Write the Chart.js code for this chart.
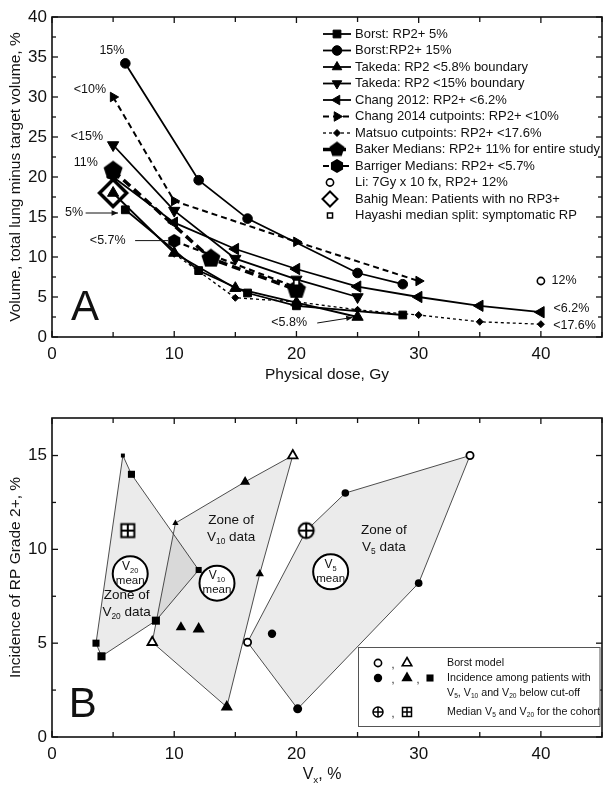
<!DOCTYPE html>
<html>
<head>
<meta charset="utf-8">
<script src="https://cdn.jsdelivr.net/npm/chart.js@4.4.1/dist/chart.umd.min.js"></script>
<style>
  body { margin: 0; background: #fff; }
  #wrap { position: relative; width: 603px; height: 790px; }
  .box { position: absolute; left: 0; width: 603px; height: 395px; }
</style>
</head>
<body>
<div id="wrap">
  <div class="box" style="top:0"><canvas id="chartA"></canvas></div>
  <div class="box" style="top:395px"><canvas id="chartB"></canvas></div>
</div>
<script>
// ---------- panel A: volume vs physical dose ----------
const borst5Dose = [6, 12, 16, 20, 28.7];
const borst5Vol = [15.9, 8.3, 5.5, 3.9, 2.75];
const borst15Dose = [6, 12, 16, 25, 28.7];
const borst15Vol = [34.2, 19.6, 14.8, 8.0, 6.6];
const takeda58Dose = [5, 10, 15, 20, 25];
const takeda58Vol = [18, 10.5, 6.1, 4.3, 2.5];
const takeda15Dose = [5, 10, 15, 20, 25];
const takeda15Vol = [24, 15.8, 9.8, 7.2, 5.0];
const chang12Dose = [5, 10, 15, 20, 25, 30, 35, 40];
const chang12Vol = [20, 14.3, 11.0, 8.5, 6.3, 5.0, 3.9, 3.1];
const chang14Dose = [5, 10, 20, 30];
const chang14Vol = [30, 17, 11.9, 7.0];
const matsuoDose = [10, 15, 20, 25, 30, 35, 40];
const matsuoVol = [10.4, 4.9, 4.4, 3.4, 2.75, 1.9, 1.6];
const bakerDose = [5, 13, 20];
const bakerVol = [20.8, 9.8, 5.9];
const barrigerDose = [10, 20];
const barrigerVol = [12, 6.2];
const liDose = [40];
const liVol = [7.0];
const bahigDose = [5];
const bahigVol = [18];
const hayashiDose = [20];
const hayashiVol = [6.8];

// ---------- panel B: incidence vs Vx ----------
const borstV5X = [34.2, 16];
const borstV5Y = [15, 5.05];
const borstV10X = [19.7, 8.2];
const borstV10Y = [15, 5.05];
const cutV5X = [24, 30, 20.1, 18];
const cutV5Y = [13, 8.2, 1.5, 5.5];
const cutV10X = [15.8, 10.1, 17, 14.3, 10.55, 12];
const cutV10Y = [13.6, 11.4, 8.7, 1.6, 5.85, 5.75];
const cutV20X = [5.8, 6.5, 12, 8.5, 4.05, 3.6];
const cutV20Y = [15, 14, 8.9, 6.2, 4.3, 5];
const medianV5X = [20.8];
const medianV5Y = [11];
const medianV20X = [6.2];
const medianV20Y = [11];
const meanX = [6.4, 13.5, 22.8];
const meanY = [8.7, 8.2, 8.8];
const meanSub = ['20', '10', '5'];
const zoneV5X = [16, 20.8, 24, 34.2, 30, 20.1, 16];
const zoneV5Y = [5.05, 11, 13, 15, 8.2, 1.5, 5.05];
const zoneV10X = [10.1, 15.8, 19.7, 17, 14.3, 8.2, 10.1];
const zoneV10Y = [11.4, 13.6, 15, 8.7, 1.6, 5.05, 11.4];
const zoneV20X = [5.8, 6.5, 12, 8.5, 4.05, 3.6, 5.8];
const zoneV20Y = [15, 14, 8.9, 6.2, 4.3, 5, 15];

const FONT = '"Liberation Sans", Arial, sans-serif';

function pts(xs, ys) { return xs.map((x, i) => ({ x: x, y: ys[i] })); }

function markerCanvas(size, draw) {
  const c = document.createElement('canvas');
  c.width = size; c.height = size;
  const g = c.getContext('2d');
  draw(g, size / 2);
  return c;
}
function poly(g, c, n, r, start) {
  g.beginPath();
  for (let i = 0; i < n; i++) {
    const a = start + i * 2 * Math.PI / n;
    g.lineTo(c + r * Math.cos(a), c + r * Math.sin(a));
  }
  g.closePath();
}
const pentagon = markerCanvas(22, (g, c) => { poly(g, c, 5, 10, -Math.PI / 2); g.fillStyle = '#000'; g.fill(); });
const pentagonSmall = markerCanvas(18, (g, c) => { poly(g, c, 5, 8, -Math.PI / 2); g.fillStyle = '#000'; g.fill(); });
const hexagon = markerCanvas(16, (g, c) => { poly(g, c, 6, 7, -Math.PI / 2); g.fillStyle = '#000'; g.fill(); });
const diamondBig = markerCanvas(34, (g, c) => { poly(g, c, 4, 13.5, -Math.PI / 2); g.lineWidth = 3.5; g.strokeStyle = '#000'; g.stroke(); });
const diamondSmall = markerCanvas(20, (g, c) => { poly(g, c, 4, 7.5, -Math.PI / 2); g.lineWidth = 2; g.strokeStyle = '#000'; g.stroke(); });
const crossCircle = markerCanvas(20, (g, c) => {
  g.beginPath(); g.arc(c, c, 7.5, 0, 2 * Math.PI); g.fillStyle = '#fff'; g.fill();
  g.lineWidth = 2; g.strokeStyle = '#000'; g.stroke();
  g.beginPath(); g.moveTo(c - 7.5, c); g.lineTo(c + 7.5, c); g.moveTo(c, c - 7.5); g.lineTo(c, c + 7.5); g.stroke();
});
const crossSquare = markerCanvas(18, (g, c) => {
  g.fillStyle = '#fff'; g.fillRect(c - 6.5, c - 6.5, 13, 13);
  g.lineWidth = 2; g.strokeStyle = '#000'; g.strokeRect(c - 6.5, c - 6.5, 13, 13);
  g.beginPath(); g.moveTo(c - 6.5, c); g.lineTo(c + 6.5, c); g.moveTo(c, c - 6.5); g.lineTo(c, c + 6.5); g.stroke();
});
const crossCircleSmall = markerCanvas(14, (g, c) => {
  g.beginPath(); g.arc(c, c, 5, 0, 2 * Math.PI); g.lineWidth = 1.5; g.strokeStyle = '#000'; g.stroke();
  g.beginPath(); g.moveTo(c - 5, c); g.lineTo(c + 5, c); g.moveTo(c, c - 5); g.lineTo(c, c + 5); g.stroke();
});
const crossSquareSmall = markerCanvas(14, (g, c) => {
  g.lineWidth = 1.5; g.strokeStyle = '#000'; g.strokeRect(c - 4.5, c - 4.5, 9, 9);
  g.beginPath(); g.moveTo(c - 4.5, c); g.lineTo(c + 4.5, c); g.moveTo(c, c - 4.5); g.lineTo(c, c + 4.5); g.stroke();
});

// text with subscripts: parts = [[text, isSub], ...]
function subText(ctx, parts, x, y, size, align) {
  const sub = size * 0.62;
  let w = 0;
  parts.forEach(p => { ctx.font = (p[1] ? sub : size) + 'px ' + FONT; w += ctx.measureText(p[0]).width; });
  let cx = align === 'center' ? x - w / 2 : x;
  ctx.textAlign = 'left'; ctx.textBaseline = 'middle';
  parts.forEach(p => {
    ctx.font = (p[1] ? sub : size) + 'px ' + FONT;
    ctx.fillText(p[0], cx, p[1] ? y + size * 0.32 : y);
    cx += ctx.measureText(p[0]).width;
  });
}
function seg(ctx, x1, y1, x2, y2) { ctx.beginPath(); ctx.moveTo(x1, y1); ctx.lineTo(x2, y2); ctx.stroke(); }
function arrow(ctx, x1, y1, x2, y2) {
  seg(ctx, x1, y1, x2, y2);
  const a = Math.atan2(y2 - y1, x2 - x1);
  ctx.beginPath();
  ctx.moveTo(x2, y2);
  ctx.lineTo(x2 - 7 * Math.cos(a - 0.4), y2 - 7 * Math.sin(a - 0.4));
  ctx.lineTo(x2 - 7 * Math.cos(a + 0.4), y2 - 7 * Math.sin(a + 0.4));
  ctx.closePath(); ctx.fill();
}

// frame + inward ticks on all four sides
const framePlugin = {
  id: 'frame',
  afterDatasetsDraw(chart, args, opts) {
    const { ctx, chartArea: a, scales: { x, y } } = chart;
    ctx.save();
    ctx.strokeStyle = '#111';
    ctx.lineWidth = 1.6;
    ctx.strokeRect(a.left, a.top, a.right - a.left, a.bottom - a.top);
    ctx.lineWidth = 1.3;
    for (let v = x.min; v <= x.max; v += opts.xStep) {
      const px = x.getPixelForValue(v);
      const len = v % opts.xMajor === 0 ? 6 : 5;
      seg(ctx, px, a.bottom, px, a.bottom - len);
      seg(ctx, px, a.top, px, a.top + len);
    }
    for (let v = y.min; v <= y.max; v += opts.yStep) {
      const py = y.getPixelForValue(v);
      const len = v % opts.yMajor === 0 ? 6 : 4;
      seg(ctx, a.left, py, a.left + len, py);
      seg(ctx, a.right, py, a.right - len, py);
    }
    ctx.restore();
  }
};

function axisX(title, height) {
  return {
    type: 'linear', min: 0, max: 45,
    afterFit(s) { s.height = height; s.paddingLeft = 0; s.paddingRight = 0; },
    grid: { display: false, drawTicks: false }, border: { display: false },
    ticks: { stepSize: 10, includeBounds: false, maxRotation: 0, padding: 7, color: '#111', font: { family: FONT, size: 17 } },
    title: { display: !!title, text: title, color: '#111', font: { family: FONT, size: 15.5 }, padding: { top: 0, bottom: 11 } }
  };
}
function axisY(title, max) {
  return {
    type: 'linear', min: 0, max: max,
    afterFit(s) { s.width = 52; s.paddingTop = 0; s.paddingBottom = 0; },
    grid: { display: false, drawTicks: false }, border: { display: false },
    ticks: { stepSize: 5, includeBounds: false, padding: 5, color: '#111', font: { family: FONT, size: 17 } },
    title: { display: true, text: title, color: '#111', font: { family: FONT, size: 15.5 }, padding: { top: 6, bottom: 0 } }
  };
}

// ---------- chart A ----------
function lineDs(label, xs, ys, extra) {
  return Object.assign({
    label: label, data: pts(xs, ys), showLine: true, tension: 0,
    borderColor: '#000', borderWidth: 1.8,
    pointBackgroundColor: '#000', pointBorderColor: '#000', pointBorderWidth: 1
  }, extra);
}
const datasetsA = [
  lineDs('Borst: RP2+ 5%', borst5Dose, borst5Vol, { pointStyle: 'rect', pointRadius: 5.5 }),
  lineDs('Borst:RP2+ 15%', borst15Dose, borst15Vol, { pointStyle: 'circle', pointRadius: 4.8 }),
  lineDs('Takeda: RP2 <5.8% boundary', takeda58Dose, takeda58Vol, { pointStyle: 'triangle', pointRadius: 6.5 }),
  lineDs('Takeda: RP2 <15% boundary', takeda15Dose, takeda15Vol, { pointStyle: 'triangle', pointRadius: 6.5, pointRotation: 180 }),
  lineDs('Chang 2012: RP2+ <6.2%', chang12Dose, chang12Vol, { pointStyle: 'triangle', pointRadius: 6.5, pointRotation: -90 }),
  lineDs('Chang 2014 cutpoints: RP2+ <10%', chang14Dose, chang14Vol, { pointStyle: 'triangle', pointRadius: 5.5, pointRotation: 90, borderDash: [6, 4], borderWidth: 2 }),
  lineDs('Matsuo cutpoints: RP2+ <17.6%', matsuoDose, matsuoVol, { pointStyle: 'rectRot', pointRadius: 3.5, borderDash: [3, 3], borderWidth: 1.3 }),
  lineDs('Baker Medians: RP2+ 11% for entire study', bakerDose, bakerVol, { pointStyle: pentagon, pointRadius: 10, borderDash: [9, 5], borderWidth: 3.5 }),
  lineDs('Barriger Medians: RP2+ <5.7%', barrigerDose, barrigerVol, { pointStyle: hexagon, pointRadius: 7, borderDash: [6, 4], borderWidth: 2.2 }),
  { label: 'Li: 7Gy x 10 fx, RP2+ 12%', data: pts(liDose, liVol), showLine: false, pointStyle: 'circle', pointRadius: 3.6,
    pointBackgroundColor: '#fff', pointBorderColor: '#000', pointBorderWidth: 1.6 },
  { label: 'Bahig Mean: Patients with no RP3+', data: pts(bahigDose, bahigVol), showLine: false, pointStyle: diamondBig, pointRadius: 14 },
  { label: 'Hayashi median split: symptomatic RP', data: pts(hayashiDose, hayashiVol), showLine: false, pointStyle: 'rect', pointRadius: 3.6,
    pointBackgroundColor: '#fff', pointBorderColor: '#000', pointBorderWidth: 1.5, order: -1 }
];
const legendMarkA = { 7: pentagonSmall, 10: diamondSmall };

const annotA = {
  id: 'annotA',
  afterDraw(chart) {
    const { ctx, scales: { x, y } } = chart;
    const X = v => x.getPixelForValue(v), Y = v => y.getPixelForValue(v);
    ctx.save();
    ctx.fillStyle = '#111'; ctx.strokeStyle = '#111';
    ctx.font = '12.5px ' + FONT; ctx.textAlign = 'center'; ctx.textBaseline = 'middle';
    [['15%', 4.9, 35.75], ['<10%', 3.1, 30.9], ['<15%', 2.85, 25.1], ['11%', 2.77, 21.75],
     ['5%', 1.8, 15.5], ['<5.7%', 4.56, 12.1], ['<5.8%', 19.4, 1.75],
     ['12%', 41.9, 7.1], ['<6.2%', 42.5, 3.6], ['<17.6%', 42.75, 1.4]].forEach(t => ctx.fillText(t[0], X(t[1]), Y(t[2])));
    ctx.lineWidth = 1;
    arrow(ctx, X(2.75), Y(15.5), X(5.4), Y(15.5));
    seg(ctx, X(6.8), Y(12.05), X(9.5), Y(12.05));
    arrow(ctx, X(21.7), Y(1.75), X(24.6), Y(2.45));
    ctx.font = '42px ' + FONT;
    ctx.fillText('A', X(2.7), Y(3.6));

    // legend
    chart.data.datasets.forEach((ds, i) => {
      const ly = 34 + i * 16.5;
      ctx.strokeStyle = '#000'; ctx.fillStyle = '#000';
      if (ds.showLine) {
        ctx.lineWidth = ds.borderWidth;
        ctx.setLineDash(ds.borderDash || []);
        seg(ctx, 323, ly, 351, ly);
        ctx.setLineDash([]);
      }
      const mx = ds.showLine ? 337 : 330;
      ctx.fillStyle = ds.pointBackgroundColor || '#000';
      ctx.lineWidth = ds.pointBorderWidth || 1;
      Chart.helpers.drawPoint(ctx, {
        pointStyle: legendMarkA[i] || ds.pointStyle,
        radius: Math.min(ds.pointRadius, 5.5),
        rotation: ds.pointRotation || 0,
        borderWidth: ds.pointBorderWidth === undefined ? 1 : ds.pointBorderWidth
      }, mx, ly);
      ctx.fillStyle = '#111';
      ctx.font = '13px ' + FONT; ctx.textAlign = 'left'; ctx.textBaseline = 'middle';
      ctx.fillText(ds.label, 355, ly);
    });
    ctx.restore();
  }
};

new Chart(document.getElementById('chartA'), {
  type: 'scatter',
  data: { datasets: datasetsA },
  options: {
    responsive: true, maintainAspectRatio: false, animation: false, devicePixelRatio: 1,
    layout: { autoPadding: false, padding: { top: 17, right: 1, left: 0, bottom: 0 } },
    plugins: { legend: { display: false }, tooltip: { enabled: false },
      frame: { xStep: 5, xMajor: 10, yStep: 2.5, yMajor: 5 } },
    scales: { x: axisX('Physical dose, Gy', 58), y: axisY('Volume, total lung minus target volume, %', 40) }
  },
  plugins: [framePlugin, annotA]
});

// ---------- chart B ----------
function markerDs(xs, ys, style, radius, fill, bw) {
  return { data: pts(xs, ys), showLine: false, pointStyle: style, pointRadius: radius,
    pointBackgroundColor: fill, pointBorderColor: '#000', pointBorderWidth: bw };
}
function zoneDs(xs, ys) {
  return { data: pts(xs, ys), showLine: true, tension: 0, fill: 'shape', pointRadius: 0,
    backgroundColor: 'rgba(0,0,0,0.078)', borderColor: '#3a3a3a', borderWidth: 0.9, order: 5 };
}
const datasetsB = [
  markerDs(borstV5X, borstV5Y, 'circle', 3.6, '#fff', 1.8),
  markerDs(borstV10X, borstV10Y, 'triangle', 5.5, '#fff', 1.8),
  markerDs(cutV5X, cutV5Y, 'circle', [3.8, 3.8, 4.5, 4.2], '#000', 0),
  markerDs(cutV10X, cutV10Y, 'triangle', [5.8, 3.6, 4.8, 7, 6, 7], '#000', 0),
  markerDs(cutV20X, cutV20Y, 'rect', [2.8, 5, 4.3, 5.7, 5.7, 5], '#000', 0),
  markerDs(medianV5X, medianV5Y, crossCircle, 9, '#fff', 0),
  markerDs(medianV20X, medianV20Y, crossSquare, 9, '#fff', 0),
  Object.assign(markerDs(meanX, meanY, 'circle', 17.5, '#fff', 2), { order: 1 }),
  zoneDs(zoneV5X, zoneV5Y),
  zoneDs(zoneV10X, zoneV10Y),
  zoneDs(zoneV20X, zoneV20Y)
];

const annotB = {
  id: 'annotB',
  afterDraw(chart) {
    const { ctx, scales: { x, y } } = chart;
    const X = v => x.getPixelForValue(v), Y = v => y.getPixelForValue(v);
    ctx.save();
    ctx.fillStyle = '#111'; ctx.strokeStyle = '#111';
    // mean circle labels
    meanX.forEach((mx, i) => {
      subText(ctx, [['V', 0], [meanSub[i], 1]], X(mx), Y(meanY[i]) - 7, 12, 'center');
      ctx.font = '11.5px ' + FONT; ctx.textAlign = 'center'; ctx.textBaseline = 'middle';
      ctx.fillText('mean', X(mx), Y(meanY[i]) + 7);
    });
    // zone labels
    [['20', 6.1, 7.55], ['10', 14.66, 11.54], ['5', 27.15, 11.0]].forEach(z => {
      ctx.font = '13.5px ' + FONT; ctx.textAlign = 'center'; ctx.textBaseline = 'middle';
      ctx.fillText('Zone of', X(z[1]), Y(z[2]));
      subText(ctx, [['V', 0], [z[0], 1], [' data', 0]], X(z[1]), Y(z[2]) + 17, 13.5, 'center');
    });
    ctx.font = '42px ' + FONT; ctx.textAlign = 'center'; ctx.textBaseline = 'middle';
    ctx.fillText('B', X(2.52), Y(1.7));
    // x title
    subText(ctx, [['V', 0], ['x', 1], [', %', 0]], 322, 380, 16, 'center');

    // legend box
    const LF = 10.7;
    ctx.fillStyle = '#fff';
    ctx.fillRect(358, 252, 242, 80);
    ctx.lineWidth = 1; ctx.strokeStyle = '#555';
    ctx.strokeRect(358.5, 252.5, 241.5, 79);
    const dp = (style, r, fill, bw, px, py) => {
      ctx.fillStyle = fill; ctx.lineWidth = bw; ctx.strokeStyle = '#000';
      Chart.helpers.drawPoint(ctx, { pointStyle: style, radius: r, rotation: 0, borderWidth: bw }, px, py);
    };
    const comma = (px, py) => { ctx.fillStyle = '#111'; ctx.font = LF + 'px ' + FONT; ctx.textAlign = 'center'; ctx.textBaseline = 'middle'; ctx.fillText(',', px, py); };
    dp('circle', 3.6, '#fff', 1.6, 378, 268); comma(393, 270); dp('triangle', 5.5, '#fff', 1.6, 407, 268);
    dp('circle', 4.2, '#000', 0, 378, 283); comma(393, 285); dp('triangle', 6.5, '#000', 0, 407, 283);
    comma(418, 285); dp('rect', 5, '#000', 0, 430, 283);
    dp(crossCircleSmall, 5, '#fff', 0, 378, 317); comma(393, 319); dp(crossSquareSmall, 5, '#fff', 0, 407, 317);
    ctx.fillStyle = '#111';
    ctx.font = LF + 'px ' + FONT; ctx.textAlign = 'left'; ctx.textBaseline = 'middle';
    ctx.fillText('Borst model', 447, 268);
    ctx.fillText('Incidence among patients with', 447, 283);
    subText(ctx, [['V', 0], ['5', 1], [', V', 0], ['10', 1], [' and V', 0], ['20', 1], [' below cut-off', 0]], 447, 298, LF, 'left');
    subText(ctx, [['Median V', 0], ['5', 1], [' and V', 0], ['20', 1], [' for the cohort', 0]], 447, 317, LF, 'left');
    ctx.restore();
  }
};

new Chart(document.getElementById('chartB'), {
  type: 'scatter',
  data: { datasets: datasetsB },
  options: {
    responsive: true, maintainAspectRatio: false, animation: false, devicePixelRatio: 1,
    layout: { autoPadding: false, padding: { top: 23, right: 1, left: 0, bottom: 0 } },
    plugins: { legend: { display: false }, tooltip: { enabled: false },
      frame: { xStep: 5, xMajor: 10, yStep: 2.5, yMajor: 5 } },
    scales: { x: axisX('', 53), y: axisY('Incidence of RP Grade 2+, %', 17) }
  },
  plugins: [framePlugin, annotB]
});
</script>
</body>
</html>
